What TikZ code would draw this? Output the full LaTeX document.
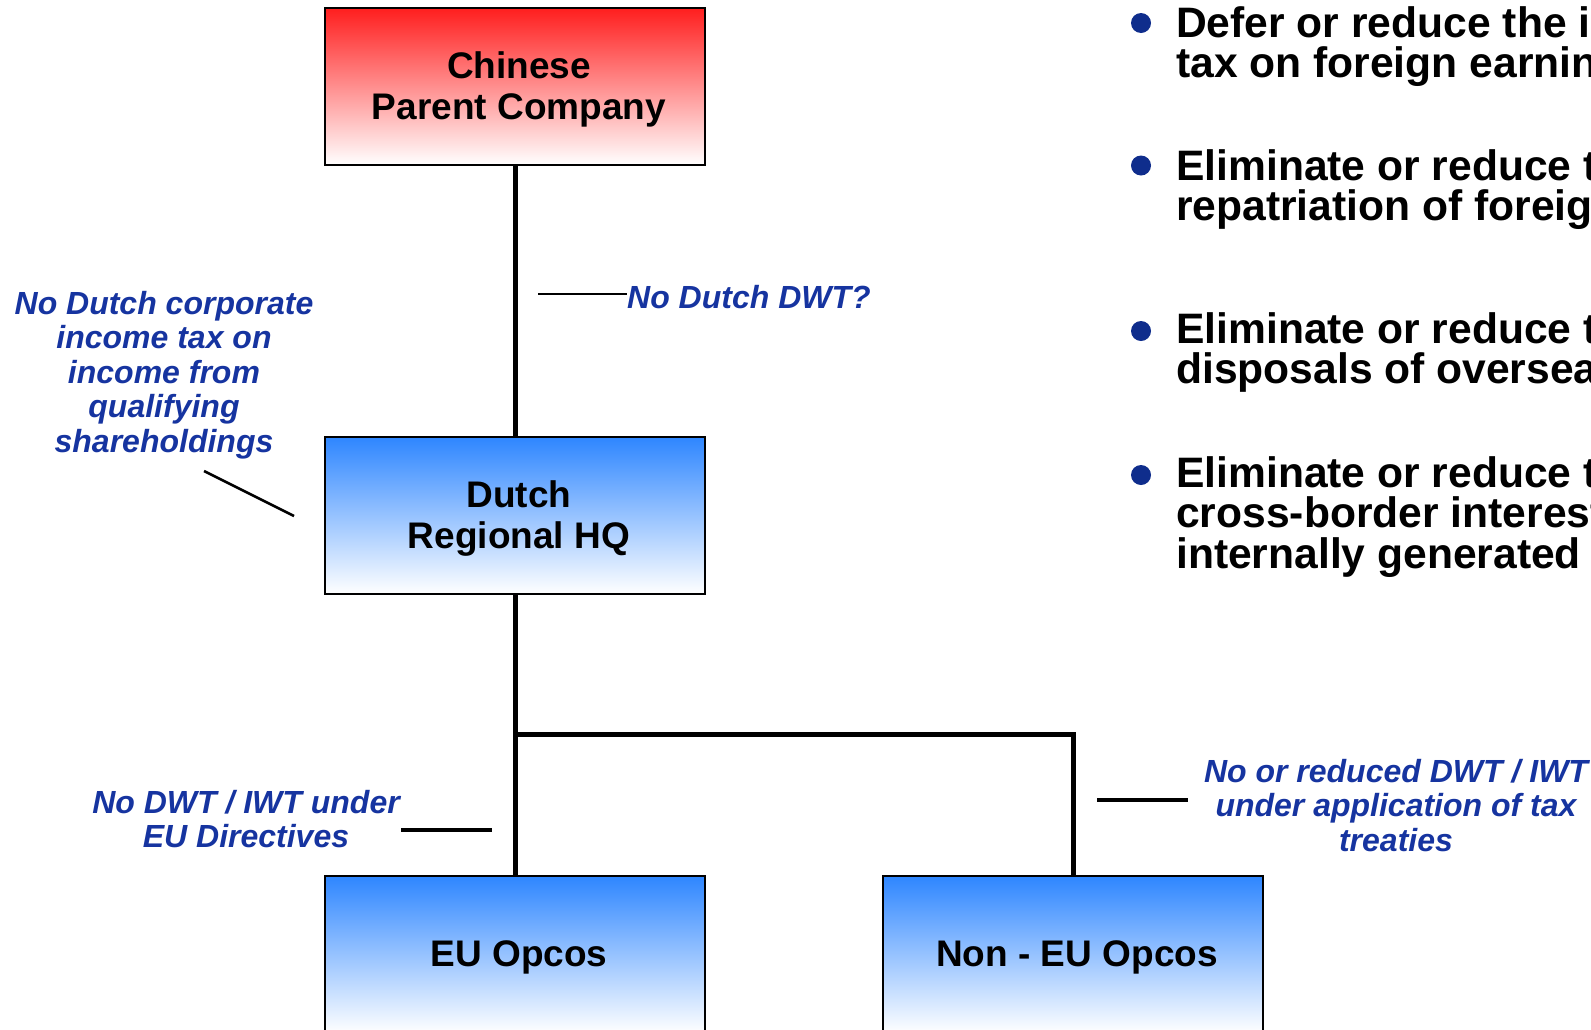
\documentclass[tikz,border=0pt]{standalone}
\usepackage{fontspec}
\setmainfont{Liberation Sans}
\definecolor{lblblue}{RGB}{22,52,160}
\definecolor{bulblue}{RGB}{15,45,140}
\definecolor{boxblue}{RGB}{46,134,255}
\definecolor{boxred}{RGB}{255,30,30}
\tikzset{
 entity/.style={draw=black, line width=2.5pt, minimum width=380pt, minimum height=157pt, inner sep=0pt},
 bluebox/.style={entity, top color=boxblue, bottom color=white},
 redbox/.style={entity, top color=boxred, bottom color=white},
 boxtext/.style={inner sep=0pt, align=center, font=\bfseries\fontsize{37}{41}\selectfont},
 link/.style={line width=5pt},
 leader/.style={line width=2.5pt},
 thickleader/.style={line width=3.5pt},
 note/.style={text=lblblue, font=\bfseries\itshape\fontsize{32}{34.5}\selectfont, align=center, inner sep=0pt},
 bullettext/.style={font=\bfseries\fontsize{42.6}{40.5}\selectfont, anchor=base west, inner sep=0pt, align=left},
 bulletdot/.style={circle, fill=bulblue, minimum size=20pt, inner sep=0pt}
}
\begin{document}
\begin{tikzpicture}[x=1pt,y=-1pt]
\useasboundingbox (0,0) rectangle (1591,1029);
% boxes
\node[redbox] (parent) at (515,86.5) {};
\node[bluebox] (hq) at (515,515.5) {};
\node[bluebox] (eu) at (515,954.5) {};
\node[bluebox] (noneu) at (1073,954.5) {};
\node[boxtext] (parenttxt) at ([shift={(4,3)}]parent.center) {Chinese\\Parent Company};
\node[boxtext] (hqtxt) at ([shift={(4,3)}]hq.center) {Dutch\\Regional HQ};
\node[boxtext] (eutxt) at ([shift={(4,3)}]eu.center) {EU Opcos};
\node[boxtext] (noneutxt) at ([shift={(4,3)}]noneu.center) {Non - EU Opcos};
% connectors
\draw[link] (parent.south) -- (hq.north);
\draw[link] (hq.south) -- (eu.north);
\coordinate (branch) at (515,734);
\draw[link] (branch) -| (noneu.north);
% notes
\node[note, anchor=base west] (dwt) at (627,308) {No Dutch DWT?};
\coordinate (dwtlead) at (538,294);
\draw[leader] (dwtlead) -- (dwtlead -| dwt.west);
\node[note, anchor=base] (cit) at (164,452) {No Dutch corporate\\income tax on\\income from\\qualifying\\shareholdings};
\coordinate (d1) at (204,471);
\coordinate (d2) at (294,516);
\draw[leader] (d1) -- (d2);
\node[note, anchor=base] (eudir) at (246,847.5) {No DWT / IWT under\\EU Directives};
\coordinate (e1) at (401,830);
\coordinate (e2) at (492,830);
\draw[thickleader] (e1) -- (e2);
\node[note, anchor=base] (treaty) at (1396,851) {No or reduced DWT / IWT\\under application of tax\\treaties};
\coordinate (t1) at (1097,800);
\coordinate (t2) at (1188,800);
\draw[thickleader] (t1) -- (t2);
% bullets
\node[bulletdot] (b1) at (1141,23) {};
\node[bulletdot] (b2) at (1141,165.5) {};
\node[bulletdot] (b3) at (1141,331) {};
\node[bulletdot] (b4) at (1141,475) {};
\node[bullettext] (t1txt) at (1176,77.5) {Defer or reduce the i\\tax on foreign earnin};
\node[bullettext] (t2txt) at (1176,220.5) {Eliminate or reduce t\\repatriation of foreig};
\node[bullettext] (t3txt) at (1176,383.5) {Eliminate or reduce t\\disposals of oversea};
\node[bullettext] (t4txt) at (1176,568) {Eliminate or reduce t\\cross-border interest\\internally generated};
\end{tikzpicture}
\end{document}
